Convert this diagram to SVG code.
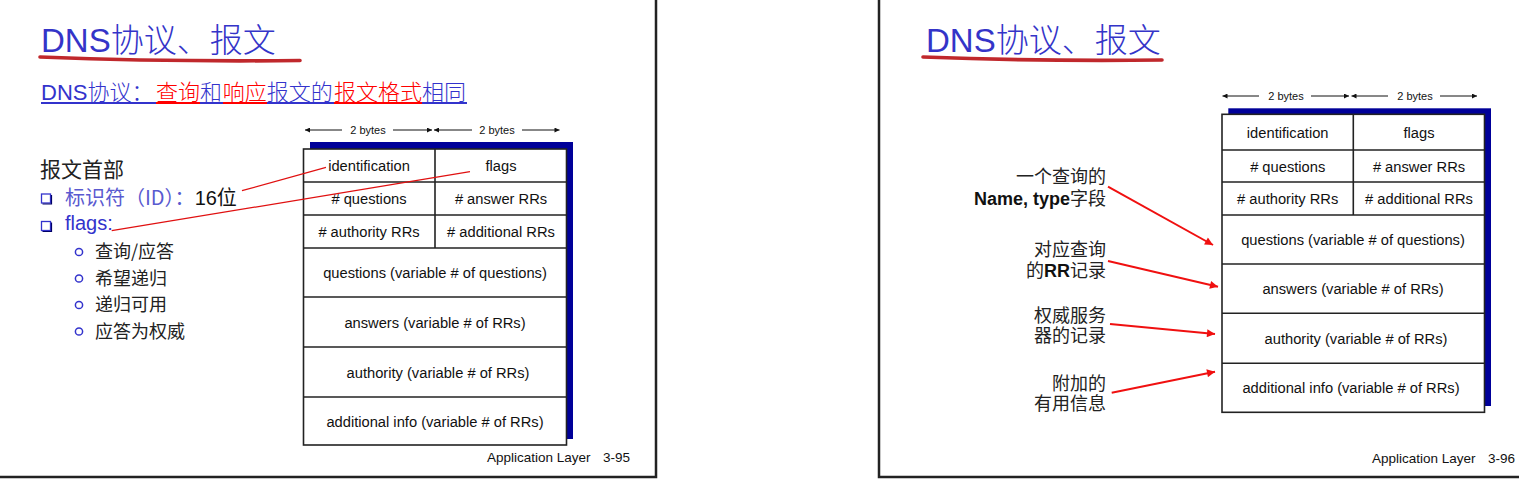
<svg xmlns="http://www.w3.org/2000/svg" width="1519" height="487" viewBox="0 0 1519 487">
<style>
.title{font-family:'Liberation Sans','Noto Sans CJK SC',sans-serif;font-size:33px;fill:#3434C8;font-weight:300}
.sub{font-family:'Liberation Sans','Noto Sans CJK SC',sans-serif;font-size:22px;font-weight:300}
.blue{fill:#3333CC}
.red{fill:#FF0000}
.cjk{font-family:'Noto Sans CJK SC',sans-serif;fill:#222}
.lat{font-family:'Liberation Sans','Noto Sans CJK SC',sans-serif}
.cell{font-family:'Liberation Sans',sans-serif;font-size:14.7px;fill:#111;text-anchor:middle}
.bytes{font-family:'Liberation Sans',sans-serif;font-size:11px;fill:#111;text-anchor:middle}
.foot{font-family:'Liberation Sans',sans-serif;font-size:13.5px;fill:#111}
.box{fill:#fff;stroke:#222;stroke-width:1.6}
.div{stroke:#222;stroke-width:1.6}
.shadow{fill:#000099}
.border{stroke:#222;stroke-width:2.5;fill:none}
.swoosh{fill:none;stroke:#C0282C;stroke-width:3.6;stroke-linecap:round}
.bl{stroke:#111;stroke-width:1}
.rl{stroke:#E01010;stroke-width:1.2;fill:none}
.ra{stroke:#F01010;stroke-width:2;fill:none}
.lbl{font-family:'Liberation Sans','Noto Sans CJK SC',sans-serif;font-size:18px;fill:#222;text-anchor:end}
.bold{font-weight:bold;fill:#111}
</style>
<defs>
<marker id="ab" viewBox="0 0 10 10" refX="10" refY="5" markerWidth="7" markerHeight="5" markerUnits="userSpaceOnUse" orient="auto"><path d="M0,0 L10,5 L0,10 z" fill="#111"/></marker>
<marker id="ar" viewBox="0 0 10 10" refX="10" refY="5" markerWidth="10" markerHeight="8" markerUnits="userSpaceOnUse" orient="auto"><path d="M0,0 L10,5 L0,10 z" fill="#F01010"/></marker>
</defs>
<rect x="0" y="0" width="1519" height="487" fill="#fff"/>

<!-- slide borders -->
<g id="borders">
<path class="border" d="M656,0 L656,477 L0,477"/>
<path class="border" d="M879,0 L879,477 L1519,477"/>
</g>

<!-- LEFT SLIDE -->
<g id="left-title">
<text class="title" x="41" y="52">DNS协议、报文</text>
<path class="swoosh" d="M40,57 Q170,62 300,60.5"/>
</g>
<g id="left-subtitle">
<text class="sub" y="100"><tspan class="blue" x="41">DNS协议：</tspan><tspan class="red" x="156">查询</tspan><tspan class="blue" x="200">和</tspan><tspan class="red" x="222.7">响应</tspan><tspan class="blue" x="266.7">报文的</tspan><tspan class="red" x="334">报文格式</tspan><tspan class="blue" x="422">相同</tspan></text>
<g stroke-width="2">
<line x1="41" y1="103" x2="156" y2="103" stroke="#3333CC"/>
<line x1="156" y1="103" x2="200" y2="103" stroke="#FF0000"/>
<line x1="200" y1="103" x2="223" y2="103" stroke="#3333CC"/>
<line x1="223" y1="103" x2="267" y2="103" stroke="#FF0000"/>
<line x1="267" y1="103" x2="334" y2="103" stroke="#3333CC"/>
<line x1="334" y1="103" x2="422" y2="103" stroke="#FF0000"/>
<line x1="422" y1="103" x2="467" y2="103" stroke="#3333CC"/>
</g>
</g>
<g id="left-list">
<text class="cjk" x="40" y="177" font-size="21">报文首部</text>
<rect x="41.5" y="194" width="9" height="9" fill="none" stroke="#3333CC" stroke-width="1.3"/>
<path d="M51.5,195 L51.5,204 L42.5,204" fill="none" stroke="#000066" stroke-width="1.2"/>
<text x="65" y="205" font-size="20"><tspan class="cjk" style="fill:#5A5AD0">标识符（ID）：</tspan><tspan class="lat" fill="#111">16位</tspan></text>
<rect x="41.5" y="221.5" width="9" height="9" fill="none" stroke="#3333CC" stroke-width="1.3"/>
<path d="M51.5,222.5 L51.5,231.5 L42.5,231.5" fill="none" stroke="#000066" stroke-width="1.2"/>
<text class="lat" x="65" y="230" font-size="20" fill="#3333CC">flags:</text>
<g fill="none" stroke="#3333CC" stroke-width="1.5">
<circle cx="79" cy="252" r="3.6"/>
<circle cx="79" cy="278.5" r="3.6"/>
<circle cx="79" cy="305" r="3.6"/>
<circle cx="79" cy="331.5" r="3.6"/>
</g>
<text class="cjk" x="95" y="258" font-size="18">查询/应答</text>
<text class="cjk" x="95" y="284.5" font-size="18">希望递归</text>
<text class="cjk" x="95" y="311" font-size="18">递归可用</text>
<text class="cjk" x="95" y="337.5" font-size="18">应答为权威</text>
</g>
<g id="left-box">
<rect class="shadow" x="310" y="142" width="263" height="297"/>
<rect class="box" x="303.5" y="149" width="263" height="296"/>
<line class="div" x1="303.5" y1="182" x2="566.5" y2="182"/>
<line class="div" x1="303.5" y1="215" x2="566.5" y2="215"/>
<line class="div" x1="303.5" y1="248" x2="566.5" y2="248"/>
<line class="div" x1="303.5" y1="297" x2="566.5" y2="297"/>
<line class="div" x1="303.5" y1="347" x2="566.5" y2="347"/>
<line class="div" x1="303.5" y1="397" x2="566.5" y2="397"/>
<line class="div" x1="435" y1="149" x2="435" y2="248"/>
<text class="cell" x="369" y="171">identification</text>
<text class="cell" x="501" y="171">flags</text>
<text class="cell" x="369" y="204">#&#160;questions</text>
<text class="cell" x="501" y="204">#&#160;answer RRs</text>
<text class="cell" x="369" y="237">#&#160;authority RRs</text>
<text class="cell" x="501" y="237">#&#160;additional RRs</text>
<text class="cell" x="435" y="278">questions (variable # of questions)</text>
<text class="cell" x="435" y="328">answers (variable # of RRs)</text>
<text class="cell" x="438" y="377.5">authority (variable # of RRs)</text>
<text class="cell" x="435" y="426.5">additional info (variable # of RRs)</text>
<text class="bytes" x="368" y="134">2 bytes</text>
<text class="bytes" x="497" y="134">2 bytes</text>
</g>
<g id="left-footer">
<text class="foot" x="487" y="462">Application Layer</text>
<text class="foot" x="603" y="462">3-95</text>
</g>

<!-- RIGHT SLIDE -->
<g id="right-title">
<text class="title" x="926" y="52">DNS协议、报文</text>
<path class="swoosh" d="M923,57 Q1040,61.5 1162,60"/>
</g>
<g id="right-box">
<rect class="shadow" x="1228.3" y="108.3" width="262.7" height="297.7"/>
<rect class="box" x="1222" y="114.3" width="262.5" height="298"/>
<line class="div" x1="1222" y1="150" x2="1484.5" y2="150"/>
<line class="div" x1="1222" y1="182" x2="1484.5" y2="182"/>
<line class="div" x1="1222" y1="215" x2="1484.5" y2="215"/>
<line class="div" x1="1222" y1="264" x2="1484.5" y2="264"/>
<line class="div" x1="1222" y1="313.3" x2="1484.5" y2="313.3"/>
<line class="div" x1="1222" y1="363.3" x2="1484.5" y2="363.3"/>
<line class="div" x1="1353.3" y1="114.3" x2="1353.3" y2="215"/>
<text class="cell" x="1287.7" y="138">identification</text>
<text class="cell" x="1419" y="138">flags</text>
<text class="cell" x="1287.7" y="171.5">#&#160;questions</text>
<text class="cell" x="1419" y="171.5">#&#160;answer RRs</text>
<text class="cell" x="1287.7" y="204">#&#160;authority RRs</text>
<text class="cell" x="1419" y="204">#&#160;additional RRs</text>
<text class="cell" x="1353" y="245">questions (variable # of questions)</text>
<text class="cell" x="1353" y="294">answers (variable # of RRs)</text>
<text class="cell" x="1356" y="344">authority (variable # of RRs)</text>
<text class="cell" x="1351" y="393">additional info (variable # of RRs)</text>
<text class="bytes" x="1286" y="100">2 bytes</text>
<text class="bytes" x="1415" y="100">2 bytes</text>
</g>
<g id="right-labels">
<text class="lbl" x="1106" y="183">一个查询的</text>
<text class="lbl" x="1106" y="205"><tspan class="bold">Name, type</tspan>字段</text>
<text class="lbl" x="1106" y="256">对应查询</text>
<text class="lbl" x="1106" y="277">的<tspan class="bold">RR</tspan>记录</text>
<text class="lbl" x="1106" y="321.5">权威服务</text>
<text class="lbl" x="1106" y="342">器的记录</text>
<text class="lbl" x="1106" y="390">附加的</text>
<text class="lbl" x="1106" y="410">有用信息</text>
</g>
<g id="right-footer">
<text class="foot" x="1372" y="463">Application Layer</text>
<text class="foot" x="1488" y="463">3-96</text>
</g>

<!-- CONNECTORS -->
<g id="connectors">
<line class="bl" x1="342" y1="130" x2="305" y2="130" marker-end="url(#ab)"/>
<line class="bl" x1="393" y1="130" x2="432" y2="130" marker-end="url(#ab)"/>
<line class="bl" x1="472" y1="130" x2="434" y2="130" marker-end="url(#ab)"/>
<line class="bl" x1="522" y1="130" x2="559.5" y2="130" marker-end="url(#ab)"/>
<line class="bl" x1="1259" y1="96" x2="1222.5" y2="96" marker-end="url(#ab)"/>
<line class="bl" x1="1311" y1="96" x2="1349" y2="96" marker-end="url(#ab)"/>
<line class="bl" x1="1388" y1="96" x2="1351.5" y2="96" marker-end="url(#ab)"/>
<line class="bl" x1="1440" y1="96" x2="1477" y2="96" marker-end="url(#ab)"/>
<line class="rl" x1="242" y1="190.7" x2="326" y2="167.3"/>
<line class="rl" x1="111.7" y1="230.7" x2="470" y2="171.7"/>
<path class="ra" d="M1108,186.7 L1213,245" marker-end="url(#ar)"/>
<path class="ra" d="M1108,261 L1218,286.7" marker-end="url(#ar)"/>
<path class="ra" d="M1110,324 L1215,334" marker-end="url(#ar)"/>
<path class="ra" d="M1111.7,392.7 L1215,371.7" marker-end="url(#ar)"/>
</g>
</svg>
